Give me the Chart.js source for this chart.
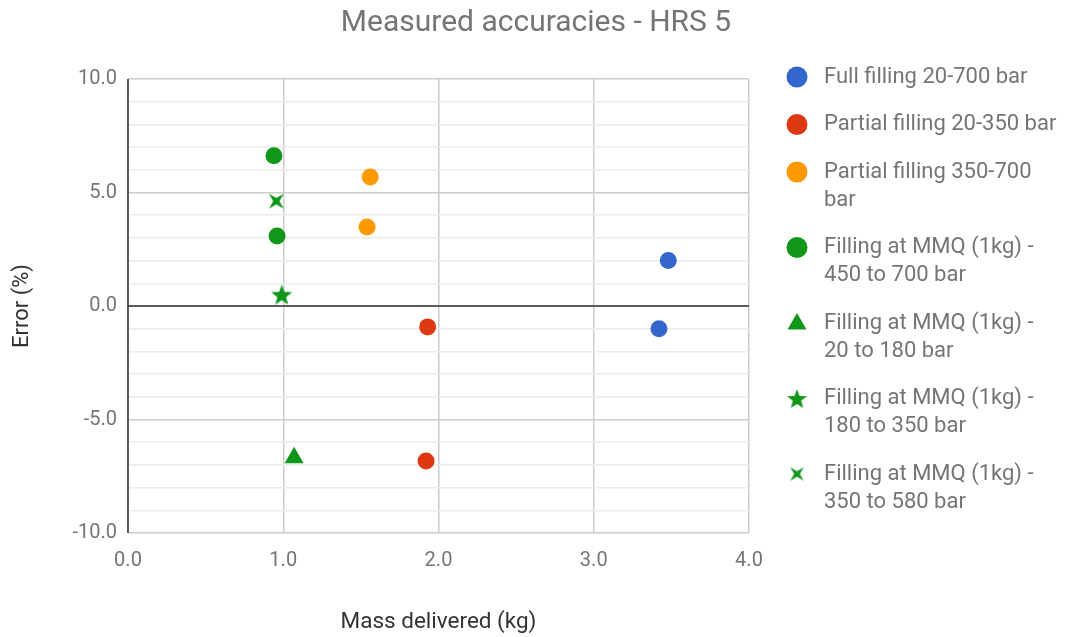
<!DOCTYPE html>
<html>
<head>
<meta charset="utf-8">
<script src="https://cdn.jsdelivr.net/npm/chart.js@4"></script>
<style>
  body { margin: 0; background: #fff; }
  #wrap { width: 1065px; height: 637px; }
</style>
</head>
<body>
<div id="wrap"><canvas id="chart" width="1065" height="637"></canvas></div>
<script>
// datos
const chartTitle = 'Measured accuracies - HRS 5';
const seriesNames = [
    ['Full filling 20-700 bar'],
    ['Partial filling 20-350 bar'],
    ['Partial filling 350-700', 'bar'],
    ['Filling at MMQ (1kg) -', '450 to 700 bar'],
    ['Filling at MMQ (1kg) -', '20 to 180 bar'],
    ['Filling at MMQ (1kg) -', '180 to 350 bar'],
    ['Filling at MMQ (1kg) -', '350 to 580 bar']
];
const fullX = [3.48, 3.42];
const fullY = [2.0, -1.0];
const partLowX = [1.93, 1.92];
const partLowY = [-0.92, -6.83];
const partHighX = [1.56, 1.54];
const partHighY = [5.68, 3.48];
const mmqHighX = [0.94, 0.96];
const mmqHighY = [6.62, 3.08];
const mmqLowX = [1.07];
const mmqLowY = [-6.68];
const mmqMidX = [0.99];
const mmqMidY = [0.5];
const mmq580X = [0.955];
const mmq580Y = [4.62];
const xTicks = [0, 1, 2, 3, 4];
const yMajor = [-10, -5, 0, 5, 10];

const GREEN = '#109618';
const TEXT = '#757575';

function pts(xs, ys) { return xs.map((x, i) => ({ x: x, y: ys[i] })); }

// estrella rellena de 5 puntas
function makeStar(size, color) {
    const c = document.createElement('canvas');
    c.width = size; c.height = size;
    const g = c.getContext('2d');
    const cx = size / 2, cy = size / 2 + 1, R = size / 2, r = R * 0.42;
    g.beginPath();
    for (let i = 0; i < 10; i++) {
        const rad = i % 2 === 0 ? R : r;
        const a = -Math.PI / 2 + i * Math.PI / 5;
        g.lineTo(cx + rad * Math.cos(a), cy + rad * Math.sin(a));
    }
    g.closePath();
    g.fillStyle = color;
    g.fill();
    return c;
}

// X con lados curvos (estrella de 4 puntas girada)
function makeX(size, color) {
    const c = document.createElement('canvas');
    c.width = size; c.height = size;
    const g = c.getContext('2d');
    const cx = size / 2, cy = size / 2, R = size / 2, r = size * 0.15;
    g.beginPath();
    for (let i = 0; i < 8; i++) {
        const rad = i % 2 === 0 ? R : r;
        const a = Math.PI / 4 + i * Math.PI / 4;
        g.lineTo(cx + rad * Math.cos(a), cy + rad * Math.sin(a));
    }
    g.closePath();
    g.fillStyle = color;
    g.fill();
    return c;
}

const starImg = makeStar(22, GREEN);
const xImg = makeX(21, GREEN);
const starLegend = makeStar(21, GREEN);
const xLegend = makeX(19, GREEN);

const datasets = [
    { label: seriesNames[0].join(' '), data: pts(fullX, fullY), backgroundColor: '#3366cc', pointStyle: 'circle', pointRadius: 8.5, legendStyle: 'circle' },
    { label: seriesNames[1].join(' '), data: pts(partLowX, partLowY), backgroundColor: '#dc3912', pointStyle: 'circle', pointRadius: 8.5, legendStyle: 'circle' },
    { label: seriesNames[2].join(' '), data: pts(partHighX, partHighY), backgroundColor: '#ff9900', pointStyle: 'circle', pointRadius: 8.5, legendStyle: 'circle' },
    { label: seriesNames[3].join(' '), data: pts(mmqHighX, mmqHighY), backgroundColor: GREEN, pointStyle: 'circle', pointRadius: 8.5, legendStyle: 'circle' },
    { label: seriesNames[4].join(' '), data: pts(mmqLowX, mmqLowY), backgroundColor: GREEN, pointStyle: 'triangle', pointRadius: 11, legendStyle: 'triangle' },
    { label: seriesNames[5].join(' '), data: pts(mmqMidX, mmqMidY), backgroundColor: GREEN, pointStyle: starImg, pointRadius: 11, legendStyle: starLegend },
    { label: seriesNames[6].join(' '), data: pts(mmq580X, mmq580Y), backgroundColor: GREEN, pointStyle: xImg, pointRadius: 10.5, legendStyle: xLegend }
];
datasets.forEach(d => { d.borderWidth = 0; d.borderColor = d.backgroundColor; d.pointHoverRadius = d.pointRadius; });

// título centrado y leyenda a la derecha con texto en varias líneas
const sideLegend = {
    id: 'sideLegend',
    afterDraw(chart) {
        const ctx = chart.ctx;
        ctx.save();
        ctx.textBaseline = 'middle';
        ctx.fillStyle = TEXT;
        ctx.font = '30px Roboto';
        ctx.textAlign = 'center';
        ctx.fillText(chartTitle, 536, 23);

        ctx.textAlign = 'left';
        ctx.font = '22px Roboto';
        let y = 77;
        seriesNames.forEach((lines, i) => {
            const ds = chart.data.datasets[i];
            const st = ds.legendStyle;
            if (typeof st === 'string') {
                ctx.fillStyle = ds.backgroundColor;
                ctx.strokeStyle = ds.backgroundColor;
                Chart.helpers.drawPoint(ctx, { pointStyle: st, radius: st === 'triangle' ? 11 : 10.5, borderWidth: 0 }, 797, st === 'triangle' ? y + 1 : y);
            } else {
                ctx.drawImage(st, 797 - st.width / 2, y - st.height / 2);
            }
            ctx.fillStyle = TEXT;
            lines.forEach((t, j) => ctx.fillText(t, 824, y + j * 28));
            y += 19.5 + lines.length * 28;
        });
        ctx.restore();
    }
};

// eje negro en x=0 y en y=0
const darkAxes = {
    id: 'darkAxes',
    beforeDatasetsDraw(chart) {
        const { ctx, chartArea, scales } = chart;
        ctx.save();
        ctx.strokeStyle = '#333';
        ctx.lineWidth = 1.5;
        const y0 = scales.y.getPixelForValue(0);
        ctx.beginPath();
        ctx.moveTo(chartArea.left, y0); ctx.lineTo(chartArea.right, y0);
        ctx.moveTo(chartArea.left, chartArea.top); ctx.lineTo(chartArea.left, chartArea.bottom);
        ctx.stroke();
        ctx.restore();
    }
};

new Chart(document.getElementById('chart'), {
    type: 'scatter',
    data: { datasets: datasets },
    plugins: [sideLegend, darkAxes],
    options: {
        responsive: false,
        animation: false,
        layout: { padding: { left: 0, right: 316, top: 79, bottom: 0 } },
        plugins: {
            legend: { display: false },
            tooltip: { enabled: false },
            title: { display: false }
        },
        scales: {
            x: {
                type: 'linear',
                min: 0, max: 4,
                afterBuildTicks: axis => { axis.ticks = xTicks.map(v => ({ value: v })); },
                afterFit: axis => { axis.height = 104; },
                ticks: {
                    color: TEXT,
                    font: { family: 'Roboto', size: 20 },
                    padding: 16,
                    callback: v => v.toFixed(1)
                },
                grid: { color: '#cccccc', lineWidth: 1.5, drawTicks: false },
                border: { display: false },
                title: {
                    display: true,
                    text: 'Mass delivered (kg)',
                    color: '#333',
                    font: { family: 'Roboto', size: 22.5 },
                    padding: { top: 0, bottom: 1 }
                }
            },
            y: {
                type: 'linear',
                min: -10, max: 10,
                afterFit: axis => { axis.width = 128; },
                ticks: {
                    stepSize: 1,
                    autoSkip: false,
                    color: TEXT,
                    font: { family: 'Roboto', size: 20 },
                    padding: 11,
                    callback: v => (yMajor.includes(v) ? v.toFixed(1) : '')
                },
                grid: {
                    drawTicks: false,
                    lineWidth: 1.5,
                    color: c => (yMajor.includes(c.tick.value) ? '#cccccc' : '#ececec')
                },
                border: { display: false },
                title: {
                    display: true,
                    text: 'Error (%)',
                    color: '#333',
                    font: { family: 'Roboto', size: 22 },
                    padding: { top: 9, bottom: 0 }
                }
            }
        }
    }
});
</script>
</body>
</html>
